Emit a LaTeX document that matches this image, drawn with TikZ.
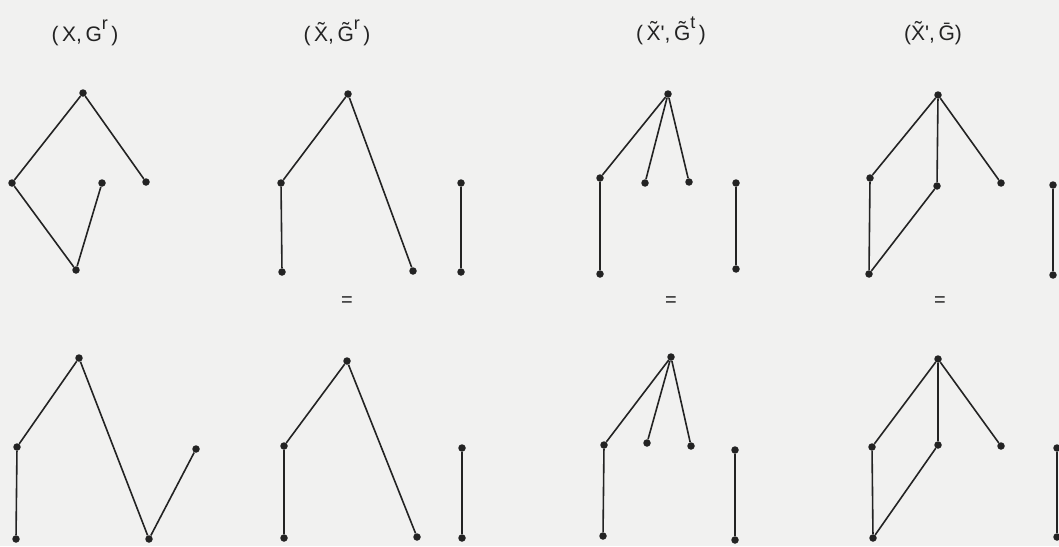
\documentclass[tikz,border=0pt]{standalone}
\usepackage{fontspec}
\setmainfont{Liberation Sans}
\definecolor{paper}{RGB}{241,241,240}
\definecolor{ink}{RGB}{35,35,35}
\newcommand{\sups}[1]{\raisebox{0.55em}{\fontsize{18}{18}\selectfont #1}}
\tikzset{
  vtx/.style={circle, fill=ink, inner sep=0pt, minimum size=7.5pt},
  edge/.style={draw=ink, line width=1.6pt},
  lbl/.style={anchor=base, text=ink, font=\fontsize{21}{24}\selectfont},
  eqsign/.style={text=ink, font=\fontsize{20}{22}\selectfont}
}
\begin{document}
\begin{tikzpicture}[x=1pt, y=-1pt]
			% Nền giấy
			\fill[paper] (0,0) rectangle (1059,546);
			\useasboundingbox (0,0) rectangle (1059,546);
			% Tiêu đề các cột
			\node[lbl] (lab1) at (85,41) {(\,X,\,G\sups{r}\,)};
			\node[lbl] (lab2) at (337,41) {(\,\~{X},\,\~{G}\sups{r}\,)};
			\node[lbl] (lab3) at (671,40) {(\,\~{X}\textquotesingle,\,\~{G}\sups{t}\,)};
			\node[lbl] (lab4) at (933,40) {(\~{X}\textquotesingle,\,\={G})};
			% Các đỉnh, hàng trên
			\foreach \n/\x/\y in {At/83/93, Al/12/183, Ai/102/183, Ar/146/182, Ab/76/270,
				Bt/348/94, Bl/281/183, Bb/282/272, Br/413/271, Bs/461/183, Bu/461/272,
				Ct/668/94, Cl/600/178, Cm/645/183, Cn/689/182, Cb/600/274, Cs/736/183, Cu/736/269,
				Dt/938/95, Dl/870/178, Dm/937/186, Dr/1001/183, Db/869/274, Ds/1053/185, Du/1053/275}
			\node[vtx] (\n) at (\x,\y) {};
			% Các đỉnh, hàng dưới
			\foreach \n/\x/\y in {Et/79/358, El/17/447, Eb/16/539, Ev/149/539, Er/196/449,
				Ft/347/361, Fl/284/446, Fb/284/538, Fr/417/537, Fs/462/448, Fu/462/538,
				Gt/671/357, Gl/604/445, Gm/647/443, Gn/691/446, Gb/603/536, Gs/735/450, Gu/735/540,
				Ht/938/359, Hl/872/447, Hm/938/445, Hr/1001/446, Hb/873/538, Hs/1057/448, Hu/1057/537}
			\node[vtx] (\n) at (\x,\y) {};
			% Các cạnh, hàng trên
			\draw[edge] (Al) -- (At) -- (Ar);
			\draw[edge] (Al) -- (Ab) -- (Ai);
			\draw[edge] (Bb) -- (Bl) -- (Bt) -- (Br);
			\draw[edge] (Bs) -- (Bu);
			\draw[edge] (Cb) -- (Cl) -- (Ct) -- (Cm);
			\draw[edge] (Ct) -- (Cn);
			\draw[edge] (Cs) -- (Cu);
			\draw[edge] (Dt) -- (Dl) -- (Db) -- (Dm) -- (Dt) -- (Dr);
			\draw[edge] (Ds) -- (Du);
			% Dấu bằng
			\foreach \k/\x in {1/347, 2/671, 3/940}
			\node[eqsign] (eq\k) at (\x,302) {=};
			% Các cạnh, hàng dưới
			\draw[edge] (Eb) -- (El) -- (Et) -- (Ev) -- (Er);
			\draw[edge] (Fb) -- (Fl) -- (Ft) -- (Fr);
			\draw[edge] (Fs) -- (Fu);
			\draw[edge] (Gb) -- (Gl) -- (Gt) -- (Gm);
			\draw[edge] (Gt) -- (Gn);
			\draw[edge] (Gs) -- (Gu);
			\draw[edge] (Ht) -- (Hl) -- (Hb) -- (Hm) -- (Ht) -- (Hr);
			\draw[edge] (Hs) -- (Hu);
\end{tikzpicture}
\end{document}
